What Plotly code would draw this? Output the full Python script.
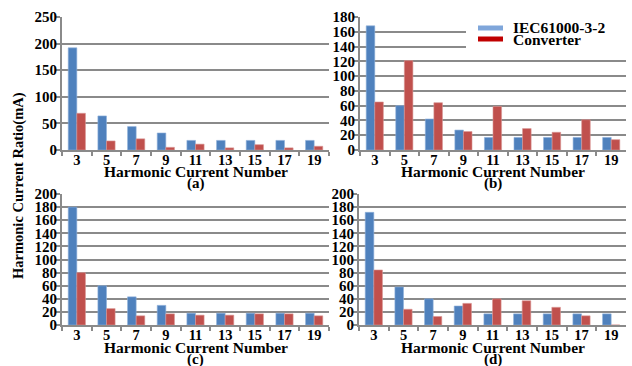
import plotly.graph_objects as go

harmonics = ["3", "5", "7", "9", "11", "13", "15", "17", "19"]

iec_a = [192, 64, 44, 32, 18, 18, 18, 18, 18]
conv_a = [69, 17, 21, 5, 11, 4, 10, 4, 7]

iec_b = [168, 60, 42, 27, 17, 17, 17, 17, 17]
conv_b = [65, 121, 64, 25, 59, 29, 24, 41, 14]

iec_c = [180, 60, 43, 30, 18, 18, 18, 18, 18]
conv_c = [80, 25, 14, 17, 15, 15, 17, 17, 14]

iec_d = [172, 58, 40, 29, 17, 17, 17, 17, 17]
conv_d = [84, 24, 13, 33, 40, 37, 27, 14, 0]

panels = [
    ("(a)", iec_a, conv_a, 250, 50),
    ("(b)", iec_b, conv_b, 180, 20),
    ("(c)", iec_c, conv_c, 200, 20),
    ("(d)", iec_d, conv_d, 200, 20),
]

W, H = 632, 366
BLUE = "#4F81BD"
RED = "#C0504D"
GRID = "#8A8A8A"
FONT = "Liberation Serif"

# pixel boxes (left, right, top, bottom)
boxes = [(62, 329, 17, 150), (360, 626, 17, 150), (62, 329, 194, 325), (359, 626, 194, 325)]

fig = go.Figure()
layout = {}
annotations = []
for i, ((lab, iec, conv, ymax, dt), (l, r, t, b)) in enumerate(zip(panels, boxes)):
    n = "" if i == 0 else str(i + 1)
    fig.add_trace(go.Bar(x=harmonics, y=iec, marker=dict(color=BLUE, line=dict(color="#8FB0DA", width=0.6)),
                         xaxis="x" + n, yaxis="y" + n, showlegend=False, name="IEC61000-3-2"))
    fig.add_trace(go.Bar(x=harmonics, y=conv, marker=dict(color=RED, line=dict(color="#D99694", width=0.6)),
                         xaxis="x" + n, yaxis="y" + n, showlegend=False, name="Converter"))
    layout["xaxis" + n] = dict(
        domain=[l / W, r / W], anchor="y" + n, type="category", automargin=False,
        showgrid=False, showline=True, linecolor=GRID, linewidth=2,
        ticks="outside", tickson="boundaries", ticklen=4, tickcolor=GRID, tickwidth=1.5,
        tickfont=dict(family=FONT, size=14.5, color="black", weight="bold"),
        ticklabelstandoff=-4,
    )
    layout["yaxis" + n] = dict(
        domain=[1 - b / H, 1 - t / H], anchor="x" + n, range=[0, ymax], dtick=dt, automargin=False,
        showgrid=True, gridcolor=GRID, gridwidth=2, zeroline=False,
        showline=True, linecolor=GRID, linewidth=2,
        ticks="outside", ticklen=4, tickcolor=GRID, tickwidth=1.5,
        tickfont=dict(family=FONT, size=15, color="black", weight="bold"),
        ticklabelstandoff=-4,
    )
    cx = (l + r) / 2 / W
    ty = 171.5 if b == 150 else 347.5
    annotations.append(dict(text="Harmonic Current Number", x=cx, y=1 - ty / H, xref="paper", yref="paper",
                            showarrow=False, xanchor="center", yanchor="middle",
                            font=dict(family=FONT, size=15.5, color="black", weight="bold")))
    annotations.append(dict(text=lab, x=cx, y=1 - (ty + 12) / H, xref="paper", yref="paper",
                            showarrow=False, xanchor="center", yanchor="middle",
                            font=dict(family=FONT, size=15, color="black", weight="bold")))

annotations.append(dict(text="Harmonic Current Ratio(mA)", x=18 / W, y=1 - 186 / H, xref="paper", yref="paper",
                        showarrow=False, textangle=-90, xanchor="center", yanchor="middle",
                        font=dict(family=FONT, size=14.5, color="black", weight="bold")))

# legend (drawn in panel b)
leg_items = [("IEC61000-3-2", "#7FA6DA", 28), ("Converter", "#C00000", 39)]
shapes = [dict(type="rect", xref="paper", yref="paper", x0=466 / W, x1=626 / W, y0=1 - 50 / H, y1=1 - 20 / H,
               fillcolor="white", line=dict(width=0), layer="above")]
for txt, col, yc in leg_items:
    shapes.append(dict(type="rect", xref="paper", yref="paper", x0=478 / W, x1=503 / W,
                       y0=1 - (yc + 2.5) / H, y1=1 - (yc - 2.5) / H, fillcolor=col, line=dict(width=0), layer="above"))
    annotations.append(dict(text=txt, x=511 / W, y=1 - yc / H, xref="paper", yref="paper", showarrow=False,
                            xanchor="left", yanchor="middle",
                            font=dict(family=FONT, size=15.5, color="black", weight="bold")))

fig.update_layout(
    width=W, height=H, margin=dict(l=0, r=0, t=0, b=0, autoexpand=False),
    paper_bgcolor="white", plot_bgcolor="white",
    barmode="group", bargap=0.42, bargroupgap=0,
    annotations=annotations, shapes=shapes, showlegend=False,
    **layout,
)

fig.write_html("out.html", config={"displayModeBar": False},
               post_script="document.body.style.margin='0';document.body.style.padding='0';")
